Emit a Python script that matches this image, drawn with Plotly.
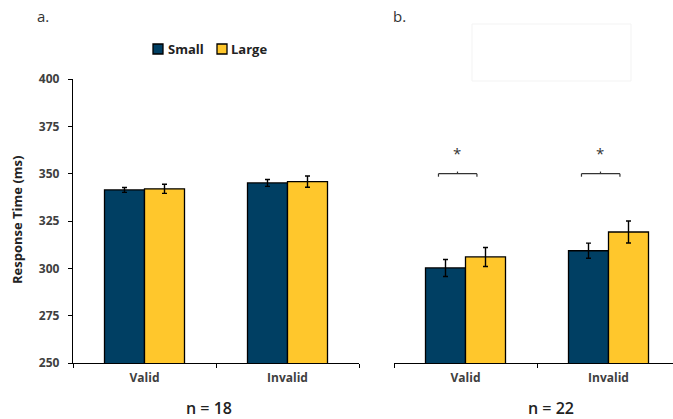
import plotly.graph_objects as go

# ---- data ----
categories = ["Valid", "Invalid"]
series_names = ["Small", "Large"]
small_a = [341.4, 345.1]
small_a_err = [1.3, 1.8]
large_a = [342.0, 345.8]
large_a_err = [2.4, 3.0]
small_b = [300.2, 309.3]
small_b_err = [4.5, 4.0]
large_b = [306.0, 319.2]
large_b_err = [5.0, 5.8]
sample_sizes = ["n = 18", "n = 22"]
panel_labels = ["a.", "b."]
y_ticks = [250, 275, 300, 325, 350, 375, 400]

# ---- styling ----
W, H = 673, 419
NAVY = "#003F63"
GOLD = "#FFC72C"
TXT = "#404040"
FONT = "Open Sans"


def px(x):
    return x / W


def py(y):
    return 1 - y / H


cat_w = 143.0  # px per category
fig = go.Figure()

for vals, errs, name, color in [
    (small_a, small_a_err, series_names[0], NAVY),
    (large_a, large_a_err, series_names[1], GOLD),
]:
    fig.add_trace(go.Bar(
        x=categories, y=vals, name=name, xaxis="x", yaxis="y",
        marker=dict(color=color, line=dict(color="black", width=1.3)),
        error_y=dict(type="data", array=errs, color="black", thickness=1.4, width=2.5),
        showlegend=False,
    ))
for vals, errs, name, color in [
    (small_b, small_b_err, series_names[0], NAVY),
    (large_b, large_b_err, series_names[1], GOLD),
]:
    fig.add_trace(go.Bar(
        x=categories, y=vals, name=name, xaxis="x2", yaxis="y2",
        marker=dict(color=color, line=dict(color="black", width=1.3)),
        error_y=dict(type="data", array=errs, color="black", thickness=1.4, width=2.5),
        showlegend=False,
    ))

ydom = [py(363), py(79)]
common_x = dict(
    type="category", showline=True, linecolor="black", linewidth=1.3,
    ticks="outside", ticklen=4, tickcolor="black", tickwidth=1.3,
    tickson="boundaries", showgrid=False, zeroline=False, automargin=False,
    tickfont=dict(family=FONT, size=12, color=TXT, weight="bold"),
    ticklabelstandoff=3,
)
fig.update_layout(
    width=W, height=H,
    margin=dict(l=0, r=0, t=0, b=0, pad=0, autoexpand=False),
    paper_bgcolor="white", plot_bgcolor="white",
    barmode="group", bargap=1 - 80 / cat_w, bargroupgap=0,
    xaxis=dict(domain=[px(73), px(359)], range=[-0.5, 1.5], anchor="y", **common_x),
    xaxis2=dict(domain=[px(394), 1.0], range=[-0.5, -0.5 + (W - 394) / cat_w], anchor="y2", **common_x),
    yaxis=dict(
        domain=ydom, range=[250, 400], tickvals=y_ticks, showline=True,
        linecolor="black", linewidth=1.3, ticks="outside", ticklen=4,
        tickcolor="black", tickwidth=1.3, showgrid=False, zeroline=False,
        tickfont=dict(family=FONT, size=12, color=TXT, weight="bold"),
        ticklabelstandoff=6, anchor="x", automargin=False,
    ),
    yaxis2=dict(
        domain=ydom, range=[250, 400], showline=False, showticklabels=False,
        ticks="", showgrid=False, zeroline=False, anchor="x2", automargin=False,
    ),
)

shapes = []
annotations = []

# significance brackets on panel b
for ci in range(len(categories)):
    x0, x1, xm = ci - 0.189, ci + 0.08, ci - 0.056
    yb = 350
    for (a, b, c, d) in [
        (x0, yb, x1, yb),
        (x0, yb, x0, yb - 1.6),
        (x1, yb, x1, yb - 1.6),
        (xm, yb, xm, yb + 1.1),
    ]:
        shapes.append(dict(type="line", xref="x2", yref="y2", x0=a, y0=b, x1=c, y1=d,
                           line=dict(color="#333333", width=1.2)))
    annotations.append(dict(text="*", xref="x2", yref="y2", x=xm, y=361, showarrow=False,
                            font=dict(family=FONT, size=15, color="#333333")))

# faint rectangle (artifact in source)
shapes.append(dict(type="rect", xref="paper", yref="paper", x0=px(472), x1=px(631),
                   y0=py(81), y1=py(24), line=dict(color="#f3f3f3", width=1)))

# legend (manual)
for (sx, tx, name, color) in [(153, 166, series_names[0], NAVY), (217, 229, series_names[1], GOLD)]:
    shapes.append(dict(type="rect", xref="paper", yref="paper", x0=px(sx), x1=px(sx + 10),
                       y0=py(54), y1=py(44), fillcolor=color, line=dict(color="black", width=1.3)))
    annotations.append(dict(text=name, xref="paper", yref="paper", x=px(tx), y=py(49),
                            xanchor="left", yanchor="middle", showarrow=False,
                            font=dict(family=FONT, size=13, color="#222222", weight="bold")))

# y-axis title
annotations.append(dict(text="Response Time (ms)", xref="paper", yref="paper", x=px(17), y=py(220),
                        textangle=-90, showarrow=False, xanchor="center", yanchor="middle",
                        font=dict(family=FONT, size=13, color="#222222", weight="bold")))

# panel labels
for lab, x in zip(panel_labels, [35, 391]):
    annotations.append(dict(text=lab, xref="paper", yref="paper", x=px(x), y=py(16),
                            xanchor="left", yanchor="middle", showarrow=False,
                            font=dict(family=FONT, size=15, color="#333333")))

# sample sizes
for lab, x in zip(sample_sizes, [209, 551]):
    annotations.append(dict(text=lab, xref="paper", yref="paper", x=px(x), y=py(408),
                            xanchor="center", yanchor="middle", showarrow=False,
                            font=dict(family=FONT, size=16, color="#222222", weight=600)))

fig.update_layout(shapes=shapes, annotations=annotations)
fig.write_html("out.html")
